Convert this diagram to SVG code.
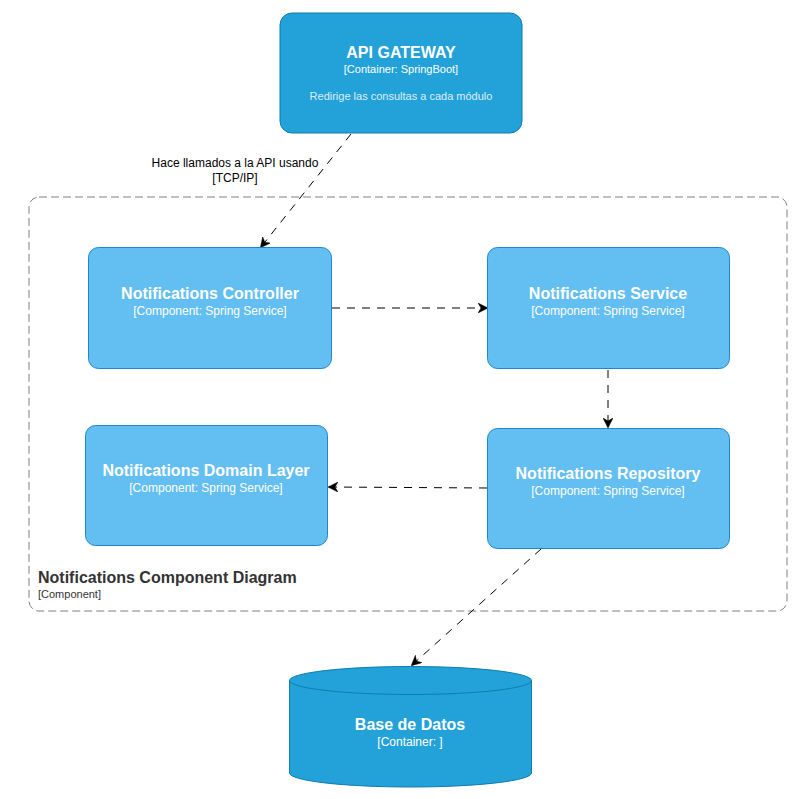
<svg xmlns="http://www.w3.org/2000/svg" width="803" height="799" viewBox="0 0 803 799">
<defs>
<style>
.cont{fill:#23A2D9;stroke:#0E7DAD;stroke-width:1}
.comp{fill:#63BEF2;stroke:#2086C9;stroke-width:1}
.t{font-family:"Liberation Sans",Arial,sans-serif;fill:#fff;text-anchor:middle}
.title{font-size:16px;font-weight:bold}
.sub{font-size:12px}
.sub11{font-size:11px}
.desc{font-size:11px;fill:#fff;fill-opacity:0.85}
.edge{fill:none;stroke:#000;stroke-width:1;stroke-dasharray:8 7}
.lbl{font-family:"Liberation Sans",Arial,sans-serif;font-size:12px;fill:#000;text-anchor:middle}
</style>
<marker id="arr" viewBox="0 0 10 10" refX="9" refY="5" markerWidth="10" markerHeight="10" markerUnits="userSpaceOnUse" orient="auto">
<path d="M0,0 L10,5 L0,10 L3,5 Z" fill="#000" stroke="#000" stroke-width="0.5"/>
</marker>
</defs>
<rect width="803" height="799" fill="#fff"/>

<g id="boundary">
<rect x="29" y="197" width="758" height="414" rx="10" ry="10" fill="none" stroke="#808080" stroke-width="1" stroke-dasharray="8 4"/>
<text x="38" y="583" font-family="Liberation Sans,Arial,sans-serif" font-size="16" font-weight="bold" fill="#333">Notifications Component Diagram</text>
<text x="38" y="598" font-family="Liberation Sans,Arial,sans-serif" font-size="11" fill="#333">[Component]</text>
</g>

<g id="connectors">
<line class="edge" x1="351" y1="134" x2="261" y2="247" marker-end="url(#arr)"/>
<text class="lbl" x="235" y="167">Hace llamados a la API usando</text>
<text class="lbl" x="235" y="182">[TCP/IP]</text>
<line class="edge" x1="332" y1="308" x2="487" y2="308" marker-end="url(#arr)"/>
<line class="edge" x1="608" y1="370" x2="608" y2="427" marker-end="url(#arr)"/>
<line class="edge" x1="487" y1="488" x2="329" y2="487" marker-end="url(#arr)"/>
<line class="edge" x1="541" y1="549" x2="412" y2="665" marker-end="url(#arr)"/>
</g>

<g id="api-gateway">
<rect class="cont" x="280" y="13" width="242" height="120" rx="12" ry="12"/>
<text class="t title" x="401" y="58">API GATEWAY</text>
<text class="t sub11" x="401" y="73">[Container: SpringBoot]</text>
<text class="t desc" x="401" y="100">Redirige las consultas a cada módulo</text>
</g>

<g id="notifications-controller">
<rect class="comp" x="88.5" y="247.5" width="243" height="121" rx="10" ry="10"/>
<text class="t title" x="210" y="299">Notifications Controller</text>
<text class="t sub" x="210" y="315">[Component: Spring Service]</text>
</g>

<g id="notifications-service">
<rect class="comp" x="487.5" y="247.5" width="242" height="121" rx="10" ry="10"/>
<text class="t title" x="608" y="299">Notifications Service</text>
<text class="t sub" x="608" y="315">[Component: Spring Service]</text>
</g>

<g id="notifications-domain-layer">
<rect class="comp" x="85.5" y="425.5" width="242" height="120" rx="10" ry="10"/>
<text class="t title" x="206" y="476">Notifications Domain Layer</text>
<text class="t sub" x="206" y="492">[Component: Spring Service]</text>
</g>

<g id="notifications-repository">
<rect class="comp" x="487.5" y="428.5" width="242" height="120" rx="10" ry="10"/>
<text class="t title" x="608" y="479">Notifications Repository</text>
<text class="t sub" x="608" y="495">[Component: Spring Service]</text>
</g>

<g id="base-de-datos">
<path class="cont" d="M289.5,680.5 A121,14 0 0 1 531.5,680.5 V773 A121,14 0 0 1 289.5,773 Z"/>
<path d="M289.5,680.5 A121,14 0 0 0 531.5,680.5" fill="none" stroke="#0E7DAD" stroke-width="1"/>
<text class="t title" x="410" y="730">Base de Datos</text>
<text class="t sub" x="410" y="746">[Container: ]</text>
</g>
</svg>
